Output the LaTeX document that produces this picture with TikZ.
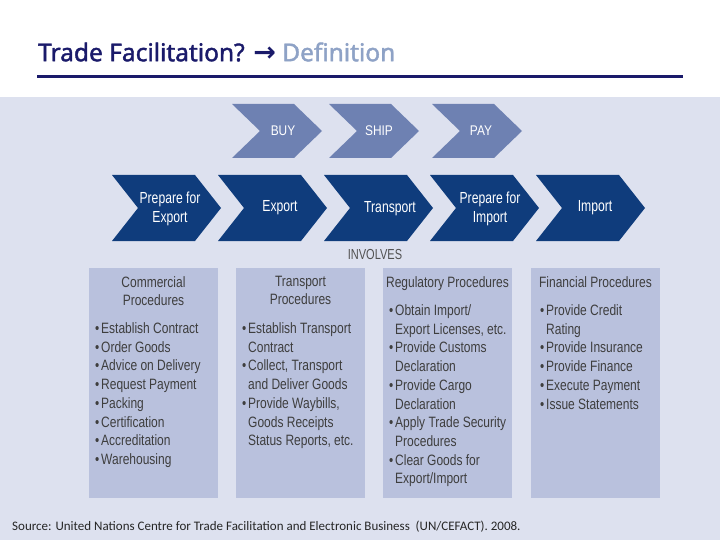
\documentclass[tikz,border=0pt]{standalone}
\usepackage{fontspec}
\setmainfont{Liberation Sans}
\newfontfamily\narrowf[FakeStretch=0.8]{Liberation Sans}
\newfontfamily\chevf[FakeStretch=0.76]{Liberation Sans}
\newfontfamily\topf[FakeStretch=0.85]{Liberation Sans}
\newfontfamily\titlef[FakeBold=1.6]{Noto Sans}
\newfontfamily\arrf{DejaVu Sans}
\newfontfamily\srcf{Carlito}
\definecolor{titlenavy}{HTML}{1A1A6A}
\definecolor{deflight}{HTML}{8EA2C6}
\definecolor{panel}{HTML}{DDE1EF}
\definecolor{topchev}{HTML}{6E81B2}
\definecolor{darkchev}{HTML}{0F3C7C}
\definecolor{boxc}{HTML}{B9C1DD}
\definecolor{txt}{HTML}{3E3E3E}
\newcommand\bul{\makebox[6pt][l]{\textbullet}}
\newcommand\ind{\hspace*{6pt}}
% color, x0, y0, w, h, d
\newcommand\chev[6]{\fill[#1] (#2,#3) -- ++({#4-#6},0) -- ++(#6,{#5/2}) -- ++(-#6,{#5/2}) -- ++({-(#4-#6)},0) -- ++(#6,{-#5/2}) -- cycle;}
\begin{document}
\begin{tikzpicture}[x=1pt,y=-1pt,
  toplbl/.style={inner sep=0pt, align=center, text=white, font=\topf\fontsize{14}{16}\selectfont},
  chevlbl/.style={inner sep=0pt, align=center, text=white, font=\chevf\fontsize{16}{19.5}\selectfont},
  box/.style={fill=boxc, inner sep=0pt, anchor=north west, minimum width=129pt, minimum height=230pt},
  head/.style={text=txt, font=\narrowf\fontsize{15}{18}\selectfont, align=center, inner sep=0pt, anchor=north},
  list/.style={text=txt, font=\narrowf\fontsize{15}{18.7}\selectfont, align=left, anchor=north west, inner sep=0pt}]
\useasboundingbox (0,0) rectangle (720,540);
\fill[white] (0,0) rectangle (720,540);
\fill[panel] (0,97) rectangle (720,540);
% title
\node[anchor=west, inner sep=0pt] (title) at (38,52)
  {\titlef\fontsize{24.5}{28}\selectfont\textcolor{titlenavy}{Trade Facilitation?} {\arrf\bfseries\fontsize{27}{28}\selectfont\textcolor{titlenavy}{→}} \textcolor{deflight}{Definition}};
\draw[titlenavy, line width=3pt] (37,77) -- (683,77);
% top chevrons
\chev{topchev}{232}{104}{90}{54}{28}
\chev{topchev}{329}{104}{90}{54}{28}
\chev{topchev}{432}{104}{90}{54}{28}
\node[toplbl] (buy) at (283,131) {BUY};
\node[toplbl] (ship) at (379,131) {SHIP};
\node[toplbl] (pay) at (481,131) {PAY};
% second row
\chev{darkchev}{112}{175}{109}{66}{26}
\chev{darkchev}{218}{175}{109}{66}{26}
\chev{darkchev}{324}{175}{109}{66}{26}
\chev{darkchev}{430}{175}{109}{66}{26}
\chev{darkchev}{536}{175}{109}{66}{26}
\node[chevlbl] (prepexp) at (170,209) {Prepare for\\Export};
\node[chevlbl] (export) at (280,208) {Export};
\node[chevlbl] (transport) at (390,209) {Transport};
\node[chevlbl] (prepimp) at (490,209) {Prepare for\\Import};
\node[chevlbl] (import) at (595,208) {Import};
\node[inner sep=0pt, text=txt!90, font=\chevf\fontsize{14.5}{17}\selectfont] (involves) at (375,255) {INVOLVES};
% boxes
\node[box] (b1) at (89,268) {};
\node[box] (b2) at (236,268) {};
\node[box] (b3) at (383,268) {};
\node[box] (b4) at (531,268) {};
\node[head] (h1) at (153.5,276) {Commercial\\Procedures};
\node[head] (h2) at (300.5,276) {Transport\\Procedures};
\node[head] (h3) at (447.5,276.5) {Regulatory Procedures};
\node[head] (h4) at (595.5,276.5) {Financial Procedures};
\node[list] (l1) at (95,322.5) {\bul Establish Contract\\\bul Order Goods\\\bul Advice on Delivery\\\bul Request Payment\\\bul Packing\\\bul Certification\\\bul Accreditation\\\bul Warehousing};
\node[list] (l2) at (242,322.5) {\bul Establish Transport\\\ind Contract\\\bul Collect, Transport\\\ind and Deliver Goods\\\bul Provide Waybills,\\\ind Goods Receipts\\\ind Status Reports, etc.};
\node[list] (l3) at (389,304.5) {\bul Obtain Import/\\\ind Export Licenses, etc.\\\bul Provide Customs\\\ind Declaration\\\bul Provide Cargo\\\ind Declaration\\\bul Apply Trade Security\\\ind Procedures\\\bul Clear Goods for\\\ind Export/Import};
\node[list] (l4) at (540,304.5) {\bul Provide Credit\\\ind Rating\\\bul Provide Insurance\\\bul Provide Finance\\\bul Execute Payment\\\bul Issue Statements};
% source
\node[anchor=west, inner sep=0pt, text=black!85, font=\srcf\fontsize{13}{15}\selectfont] (source) at (12,527)
  {Source: United Nations Centre for Trade Facilitation and Electronic Business\ \ (UN/CEFACT). 2008.};
\end{tikzpicture}
\end{document}
